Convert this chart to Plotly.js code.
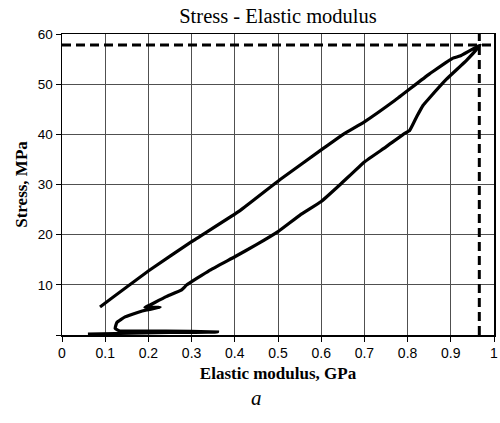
<!DOCTYPE html>
<html>
<head>
<meta charset="utf-8">
<script src="https://cdn.plot.ly/plotly-3.0.1.min.js"></script>
<style>html,body{margin:0;padding:0;background:#fff;}#chart{width:500px;height:423px;}</style>
</head>
<body>
<div id="chart"></div>
<script>
// Loop: loading (lower branch) and unloading (upper branch)
const modulus = [0.06, 0.25, 0.36, 0.24, 0.134, 0.123, 0.127, 0.146, 0.175, 0.196, 0.227, 0.192, 0.204, 0.24, 0.277, 0.289, 0.34, 0.4, 0.45, 0.5, 0.551, 0.6, 0.644, 0.7, 0.75, 0.79, 0.805, 0.821, 0.836, 0.847, 0.89, 0.937, 0.968, 0.921, 0.905, 0.85, 0.771, 0.7, 0.651, 0.6, 0.505, 0.412, 0.3, 0.204, 0.088];
const stress = [0.2, 0.5, 0.6, 0.8, 0.8, 1.3, 2.5, 3.6, 4.5, 5.0, 5.5, 5.5, 6.0, 7.6, 9.0, 10.0, 12.8, 15.6, 18.0, 20.6, 23.9, 26.6, 30.0, 34.5, 37.5, 40.0, 40.8, 43.5, 45.8, 46.9, 51.0, 54.8, 57.8, 55.6, 55.2, 52.0, 46.8, 42.5, 40.0, 36.9, 31.0, 24.8, 18.6, 13.0, 5.6];
// Maximum-point markers (dashed guides)
const peakModulus = 0.966;
const peakStress = 57.8;
const xTickVals = [0, 0.1, 0.2, 0.3, 0.4, 0.5, 0.6, 0.7, 0.8, 0.9, 1];
const xTickText = ["0", "0.1", "0.2", "0.3", "0.4", "0.5", "0.6", "0.7", "0.8", "0.9", "1"];
const yTickVals = [0, 10, 20, 30, 40, 50, 60];
const yTickText = ["", "10", "20", "30", "40", "50", "60"];

const traces = [
  {x: [0, 1], y: [peakStress, peakStress], mode: "lines", line: {color: "#000", width: 3, dash: "9px,5px"}, hoverinfo: "skip"},
  {x: [peakModulus, peakModulus], y: [0, 60], mode: "lines", line: {color: "#000", width: 3, dash: "9px,5px"}, hoverinfo: "skip"},
  {x: modulus, y: stress, mode: "lines", line: {color: "#000", width: 3.2, shape: "spline", smoothing: 0.3}}
];

const serif = "Liberation Serif, Times New Roman, serif";
const layout = {
  width: 500, height: 423,
  margin: {l: 62, r: 6, t: 34, b: 88},
  paper_bgcolor: "#fff", plot_bgcolor: "#fff",
  showlegend: false,
  title: {text: "Stress - Elastic modulus", font: {family: serif, size: 20.5, color: "#000"}, x: 0.556, xanchor: "center", y: 0.962, yanchor: "middle"},
  xaxis: {
    range: [0, 1], tickvals: xTickVals, ticktext: xTickText,
    tickfont: {family: "Liberation Sans, Arial, sans-serif", size: 14, color: "#000"},
    showgrid: true, gridcolor: "#505050", gridwidth: 1, zeroline: false,
    showline: true, linecolor: "#000", linewidth: 1.5, mirror: true,
    ticks: "outside", ticklen: 5, tickcolor: "#000",
    title: {text: "<b>Elastic modulus, GPa</b>", font: {family: serif, size: 17, color: "#000"}, standoff: 7}
  },
  yaxis: {
    range: [0, 60], tickvals: yTickVals, ticktext: yTickText,
    tickfont: {family: "Liberation Sans, Arial, sans-serif", size: 13.5, color: "#000"},
    showgrid: true, gridcolor: "#505050", gridwidth: 1, zeroline: false,
    showline: true, linecolor: "#000", linewidth: 1.5, mirror: true,
    ticks: "outside", ticklen: 5, tickcolor: "#000",
    title: {text: "<b>Stress, MPa</b>", font: {family: serif, size: 17, color: "#000"}, standoff: 6}
  },
  annotations: [
    {text: "<i>a</i>", xref: "paper", yref: "paper", x: 0.451, y: -0.209, xanchor: "center", yanchor: "middle", showarrow: false, font: {family: serif, size: 21, color: "#000"}}
  ]
};

Plotly.newPlot("chart", traces, layout, {displayModeBar: false, staticPlot: true});
</script>
</body>
</html>
